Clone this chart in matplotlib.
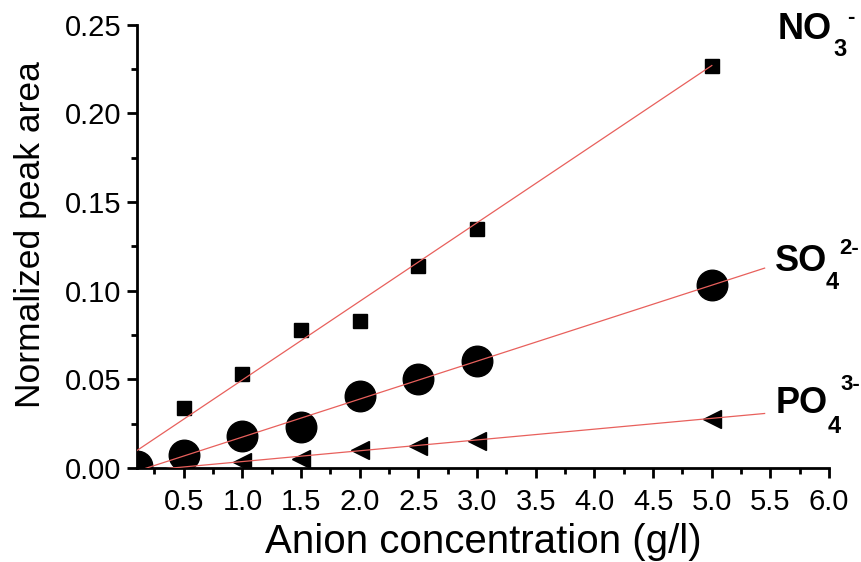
import numpy as np
import matplotlib
matplotlib.use("Agg")
import matplotlib.pyplot as plt
from matplotlib.ticker import MultipleLocator, FormatStrFormatter

plt.rcParams['font.family'] = ['Liberation Sans', 'DejaVu Sans']

# data
no3_x = [0.5, 1.0, 1.5, 2.0, 2.5, 3.0, 5.0]
no3_y = [0.034, 0.053, 0.078, 0.083, 0.114, 0.135, 0.227]
so4_x = [0.1, 0.5, 1.0, 1.5, 2.0, 2.5, 3.0, 5.0]
so4_y = [0.001, 0.0076, 0.0184, 0.023, 0.0406, 0.0504, 0.0603, 0.103]
po4_x = [1.0, 1.5, 2.0, 2.5, 3.0, 5.0]
po4_y = [0.0033, 0.0052, 0.0105, 0.0127, 0.0155, 0.0276]

# linear fits (slope, intercept) and x range of each fit line
no3_fit = [0.0443, 0.0055]
so4_fit = [0.0214, -0.00385]
po4_fit = [0.00609, -0.00237]
no3_fit_x = [0.1, 5.0]
so4_fit_x = [0.1, 5.45]
po4_fit_x = [0.1, 5.45]

W, H = 861, 562
fig = plt.figure(figsize=(W / 100, H / 100), dpi=100)
ax = fig.add_axes([0.159, 0.167, 0.804, 0.789])


def px(x, y):
    return x / W, 1 - y / H


fit_color = '#e8605c'
for fx, (m, b) in [(no3_fit_x, no3_fit), (so4_fit_x, so4_fit), (po4_fit_x, po4_fit)]:
    fx = np.array(fx)
    ax.plot(fx, m * fx + b, color=fit_color, lw=0.9, zorder=3)

ax.plot(no3_x, no3_y, 's', color='black', ms=10.5, zorder=2)
ax.plot(so4_x, so4_y, 'o', color='black', ms=22, zorder=2)
ax.plot(po4_x, po4_y, '<', color='black', ms=13, zorder=2)

ax.set_xlim(0.1, 6.0)
ax.set_ylim(0, 0.25)
ax.xaxis.set_major_locator(MultipleLocator(0.5))
ax.xaxis.set_minor_locator(MultipleLocator(0.25))
ax.yaxis.set_major_locator(MultipleLocator(0.05))
ax.yaxis.set_minor_locator(MultipleLocator(0.025))
ax.xaxis.set_major_formatter(FormatStrFormatter('%.1f'))
ax.yaxis.set_major_formatter(FormatStrFormatter('%.2f'))

for s in ['top', 'right']:
    ax.spines[s].set_visible(False)
for s in ['left', 'bottom']:
    ax.spines[s].set_linewidth(2.0)
ax.tick_params(which='major', direction='out', length=7, width=2, labelsize=21, pad=4)
ax.tick_params(which='minor', direction='out', length=4, width=2)
ax.tick_params(axis='x', pad=7)

ax.set_xlabel('Anion concentration (g/l)', fontsize=29, labelpad=5)
ax.set_ylabel('Normalized peak area', fontsize=25.5)
ax.yaxis.set_label_coords(-0.13, 0.527)

# ion labels: base, subscript, superscript
ions = [
    ('NO', '3', '-', (778, 39), (833, 56), (847, 23)),
    ('SO', '4', '2-', (775, 271), (826, 289), (839, 254)),
    ('PO', '4', '3-', (776, 413), (828, 433), (840, 390)),
]
for base, sub, sup, pb, ps, pp in ions:
    fig.text(*px(*pb), base, fontsize=26, fontweight='bold', va='baseline', ha='left')
    fig.text(*px(*ps), sub, fontsize=17, fontweight='bold', va='baseline', ha='left')
    fig.text(*px(*pp), sup, fontsize=16, fontweight='bold', va='baseline', ha='left')

fig.savefig('out.png', dpi=100)
